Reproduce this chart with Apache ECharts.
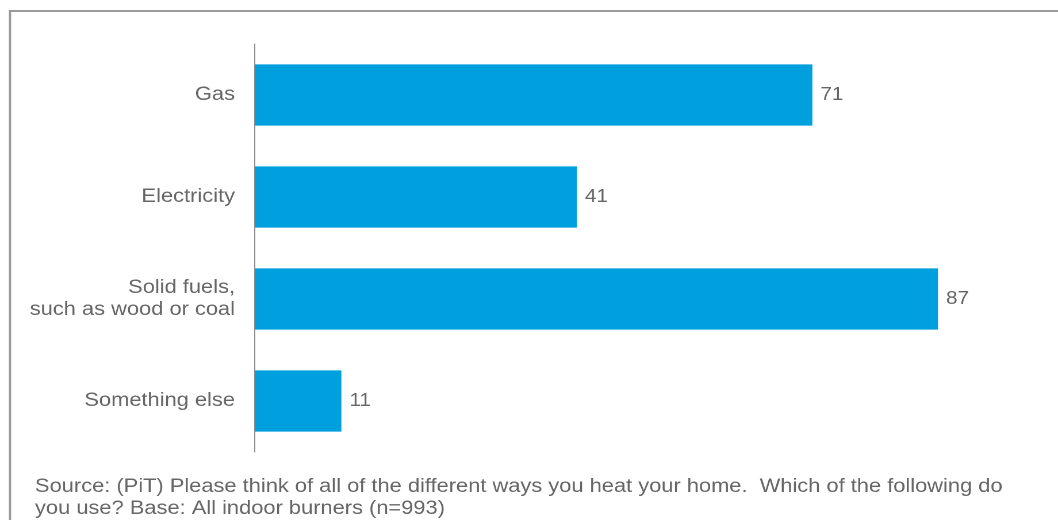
<!DOCTYPE html>
<html>
<head>
<meta charset="utf-8">
<script src="https://cdn.jsdelivr.net/npm/echarts@6/dist/echarts.min.js"></script>
<style>
  html, body { margin: 0; padding: 0; background: #fff; overflow: hidden; }
  /* The chart is laid out narrower and widened horizontally, giving the wide type of the layout */
  #chart { width: 920px; height: 520px; transform: scaleX(1.15); transform-origin: 0 0; }
</style>
</head>
<body>
<div id="chart"></div>
<script>
// Heating methods used by indoor burners (%)
const categories = ['Gas', 'Electricity', 'Solid fuels,\nsuch as wood or coal', 'Something else'];
const values = [71, 41, 87, 11];
const footnote = 'Source: (PiT) Please think of all of the different ways you heat your home.  Which of the following do\nyou use? Base: All indoor burners (n=993)';

const SX = 1.15; // horizontal stretch applied to the chart container
const FONT = '"Liberation Sans", Arial, Helvetica, sans-serif';
const chart = echarts.init(document.getElementById('chart'), null, { renderer: 'canvas', devicePixelRatio: 2 });

chart.setOption({
  animation: false,
  backgroundColor: '#ffffff',
  grid: { left: 255 / SX, top: 44, width: 785 / SX, height: 408, containLabel: false },
  xAxis: {
    type: 'value',
    min: 0,
    max: 100,
    show: false
  },
  yAxis: {
    type: 'category',
    data: categories,
    inverse: true,
    axisLine: { show: true, lineStyle: { color: '#8c8c8c', width: 1 } },
    axisTick: { show: false },
    axisLabel: {
      color: '#666666',
      fontFamily: FONT,
      fontSize: 19,
      lineHeight: 22,
      margin: 20 / SX,
      align: 'right',
      padding: [3, 0, 0, 0]
    }
  },
  series: [{
    type: 'bar',
    data: values,
    barCategoryGap: '40%',
    itemStyle: { color: '#00A0DE' },
    label: {
      show: true,
      position: 'right',
      distance: 7,
      color: '#666666',
      fontFamily: FONT,
      fontSize: 18,
      padding: [4, 0, 0, 0]
    }
  }],
  graphic: [
    {
      type: 'rect',
      shape: { x: 10 / SX, y: 11, width: 1100, height: 600 },
      style: { fill: 'none', stroke: '#9a9a9a', lineWidth: 2 },
      silent: true
    },
    {
      type: 'text',
      left: 35 / SX,
      top: 476,
      style: {
        text: footnote,
        fill: '#666666',
        font: '19px ' + FONT,
        lineHeight: 22
      }
    }
  ]
});
</script>
</body>
</html>
